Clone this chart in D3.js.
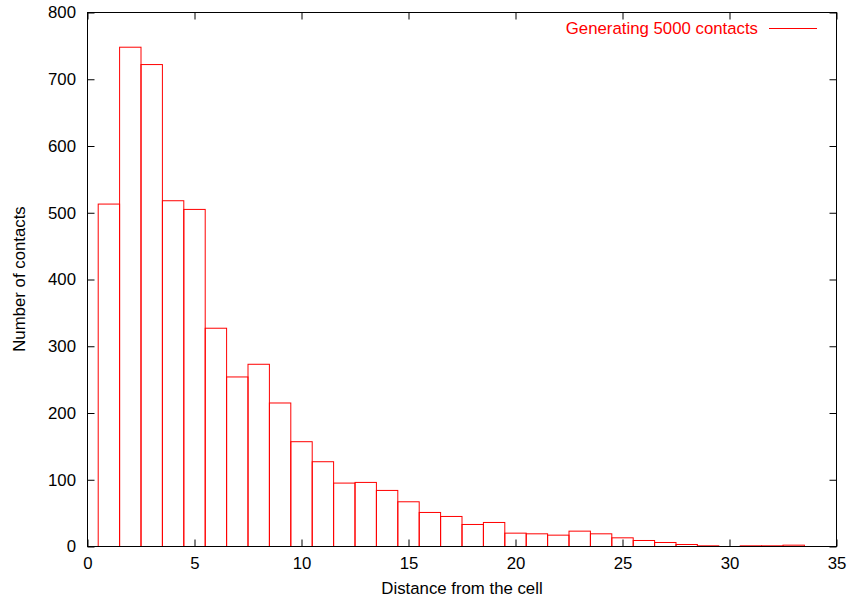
<!DOCTYPE html>
<html>
<head>
<meta charset="utf-8">
<script src="https://cdn.jsdelivr.net/npm/d3@7"></script>
<style>
  html, body { margin: 0; padding: 0; background: #fff; }
  svg text { font-family: "Liberation Sans", Arial, Helvetica, sans-serif; }
</style>
</head>
<body>
<svg id="chart" width="848" height="600"></svg>
<script>
// Histogram of contact distances (bin centres, one unit wide)
const binCenters = [1, 2, 3, 4, 5, 6, 7, 8, 9, 10, 11, 12, 13, 14, 15, 16, 17,
                    18, 19, 20, 21, 22, 23, 24, 25, 26, 27, 28, 29, 30, 31, 32, 33];
const counts = [513, 748, 722, 518, 505, 327, 254, 273, 215, 157, 127, 95, 96, 84, 67, 51, 45,
                33, 36, 20, 19, 17, 23, 19, 13, 9, 6, 3, 1, 0, 1, 1, 2];
const xTicks = [0, 5, 10, 15, 20, 25, 30, 35];
const yTicks = [0, 100, 200, 300, 400, 500, 600, 700, 800];
const seriesLabel = "Generating 5000 contacts";
const xTitle = "Distance from the cell";
const yTitle = "Number of contacts";

const svg = d3.select("#chart");
const plotLeft = 87.5, plotRight = 836.5, plotTop = 12.5, plotBottom = 546.5;

const x = d3.scaleLinear().domain([0, 35]).range([plotLeft, plotRight]);
const y = d3.scaleLinear().domain([0, 800]).range([plotBottom, plotTop]);

const red = "#ff0000";
const tickLen = 7;
const fontSize = "16.8px";

// bars
svg.append("g")
  .selectAll("rect")
  .data(binCenters.map((c, i) => ({ c, v: counts[i] })))
  .join("rect")
  .attr("x", d => x(d.c - 0.5))
  .attr("width", d => x(d.c + 0.5) - x(d.c - 0.5))
  .attr("y", d => y(d.v))
  .attr("height", d => y(0) - y(d.v))
  .attr("fill", "none")
  .attr("stroke", red)
  .attr("stroke-width", 1);

// axes: ticks point inward on every side
const axisStyle = g => {
  g.select(".domain").remove();
  g.selectAll(".tick line").attr("stroke", "#000");
  g.selectAll("text").attr("fill", "#000").style("font-size", fontSize);
};

svg.append("g")
  .attr("transform", `translate(0,${plotBottom})`)
  .call(d3.axisBottom(x).tickValues(xTicks).tickSize(-tickLen).tickFormat(d3.format("d")))
  .call(axisStyle)
  .call(g => g.selectAll("text").attr("dy", null).attr("y", 22.5));

svg.append("g")
  .attr("transform", `translate(0,${plotTop})`)
  .call(d3.axisTop(x).tickValues(xTicks).tickSize(-tickLen).tickFormat(""))
  .call(axisStyle);

svg.append("g")
  .attr("transform", `translate(${plotLeft},0)`)
  .call(d3.axisLeft(y).tickValues(yTicks).tickSize(-tickLen).tickFormat(d3.format("d")))
  .call(axisStyle)
  .call(g => g.selectAll("text").attr("x", -11.5));

svg.append("g")
  .attr("transform", `translate(${plotRight},0)`)
  .call(d3.axisRight(y).tickValues(yTicks).tickSize(-tickLen).tickFormat(""))
  .call(axisStyle);

// plot frame
svg.append("rect")
  .attr("x", plotLeft).attr("y", plotTop)
  .attr("width", plotRight - plotLeft).attr("height", plotBottom - plotTop)
  .attr("fill", "none").attr("stroke", "#000").attr("stroke-width", 1);

// axis titles
svg.append("text")
  .attr("x", 462).attr("y", 594)
  .attr("text-anchor", "middle")
  .style("font-size", fontSize)
  .text(xTitle);

svg.append("text")
  .attr("transform", `translate(24.5,279) rotate(-90)`)
  .attr("text-anchor", "middle")
  .style("font-size", fontSize)
  .text(yTitle);

// key
svg.append("text")
  .attr("x", 758).attr("y", 33.5)
  .attr("text-anchor", "end")
  .attr("fill", red)
  .style("font-size", fontSize)
  .text(seriesLabel);

svg.append("line")
  .attr("x1", 769).attr("x2", 817)
  .attr("y1", 28.5).attr("y2", 28.5)
  .attr("stroke", red).attr("stroke-width", 1);
</script>
</body>
</html>
